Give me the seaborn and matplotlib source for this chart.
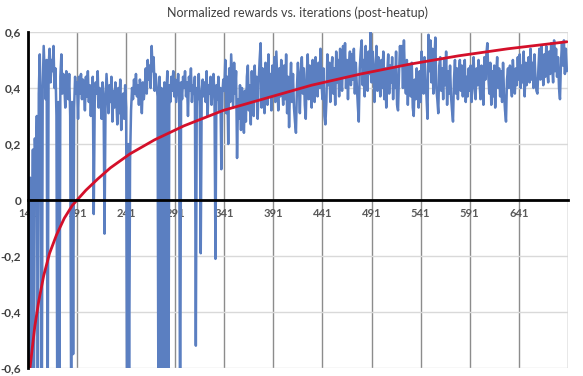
import numpy as np
import pandas as pd
import matplotlib
matplotlib.use("Agg")
import matplotlib.pyplot as plt
from matplotlib.ticker import FuncFormatter
import seaborn as sns

# normalized reward per iteration (iterations 141..690)
rewards_early = [
    -0.95, -0.30, 0.08, -0.85, -0.30, 0.18, -0.75, 0.22, 0.05, 0.30,
    -0.80, 0.38, 0.52, 0.30, -0.90, 0.40, 0.55, 0.45, 0.36, 0.50,
    -0.85, 0.48, 0.54, 0.42, 0.50, 0.46, 0.55, 0.40, 0.47, 0.30,
    -0.95, 0.35, -0.80, 0.44, 0.52, 0.38, 0.45, 0.41, 0.33, 0.46,
    0.40, 0.36, 0.45, 0.30, -0.75, 0.35, -0.55, 0.33, 0.44, 0.38,
    0.42, 0.29, 0.44, 0.38, 0.45, 0.36, 0.43, 0.40, 0.32, 0.44,
    0.37, 0.46, 0.35, 0.41, 0.30, 0.39, 0.44, -0.05, 0.35, 0.42,
    0.38, 0.46, 0.33, 0.40, 0.36, 0.29, 0.42, 0.37, -0.12, 0.34,
    0.45, 0.38, 0.31, 0.41, 0.35, 0.44, 0.28, 0.39, 0.33, 0.42,
    0.36, 0.27, 0.40, 0.31, 0.43, 0.25, 0.34, 0.38, 0.29, 0.41,
    0.33, -0.85, 0.20, -0.70, 0.14, 0.32, 0.40, 0.36, 0.43, 0.38,
    0.45, 0.37, 0.41, 0.34, 0.43, 0.39, 0.31, 0.42, 0.36, 0.40,
    0.47, 0.38, 0.50, 0.43, 0.48, 0.40, 0.55, 0.46, 0.51, 0.39,
    0.45, 0.41, 0.37, -0.90, 0.44, -0.95, 0.40, 0.35, -1.00, 0.42,
    -0.85, 0.38, 0.46, -0.90, 0.41, 0.35, 0.44, 0.39, 0.46, 0.37,
    0.43, 0.35, 0.40, 0.45, 0.38, -0.95, 0.42, 0.36, 0.44, 0.40,
    0.46, 0.37, 0.42, 0.30, 0.44, 0.39, 0.47, 0.35, 0.41, 0.38,
    0.44, -0.52, 0.40, 0.36, 0.45, 0.33, -0.19, 0.39, 0.43, 0.37,
    0.42, 0.35, 0.46, 0.30, 0.41, 0.38, 0.44, 0.34, 0.40, 0.45,
    0.37, -0.21, 0.41, 0.36, 0.44, 0.32, 0.40, 0.11, 0.38, 0.43,
]
rewards_mid = [
    0.39, 0.50, 0.31, 0.44, 0.20, 0.47, 0.35, 0.52, 0.42, 0.33,
    0.49, 0.38, 0.46, 0.15, 0.36, 0.29, 0.41, 0.25, 0.40, 0.31,
    0.24, 0.39, 0.28, 0.44, 0.48, 0.32, 0.41, 0.27, 0.46, 0.35,
    0.30, 0.48, 0.36, 0.44, 0.29, 0.42, 0.50, 0.56, 0.33, 0.47,
    0.36, 0.31, 0.49, 0.41, 0.34, 0.52, 0.37, 0.45, 0.32, 0.48,
    0.38, 0.51, 0.35, 0.53, 0.42, 0.32, 0.47, 0.37, 0.50, 0.40,
    0.34, 0.48, 0.36, 0.52, 0.31, 0.44, 0.26, 0.41, 0.49, 0.35,
    0.45, 0.33, 0.28, 0.24, 0.40, 0.49, 0.41, 0.31, 0.46, 0.51,
    0.38, 0.47, 0.34, 0.29, 0.45, 0.52, 0.36, 0.48, 0.40, 0.33,
    0.50, 0.41, 0.35, 0.51, 0.43, 0.37, 0.49, 0.40, 0.54, 0.42,
    0.36, 0.47, 0.30, 0.27, 0.35, 0.52, 0.41, 0.49, 0.35, 0.46,
    0.51, 0.38, 0.47, 0.34, 0.53, 0.42, 0.50, 0.37, 0.54, 0.43,
    0.39, 0.55, 0.44, 0.56, 0.40, 0.50, 0.36, 0.48, 0.53, 0.41,
    0.52, 0.43, 0.54, 0.38, 0.49, 0.41, 0.34, 0.28, 0.47, 0.53,
    0.57, 0.41, 0.50, 0.37, 0.55, 0.44, 0.39, 0.53, 0.45, 0.60,
    0.42, 0.53, 0.47, 0.35, 0.46, 0.55, 0.39, 0.51, 0.42, 0.37,
    0.50, 0.40, 0.53, 0.36, 0.47, 0.33, 0.45, 0.52, 0.38, 0.48,
    0.42, 0.51, 0.36, 0.47, 0.40, 0.53, 0.34, 0.32, 0.45, 0.55,
    0.48, 0.55, 0.40, 0.57, 0.44, 0.38, 0.50, 0.34, 0.48, 0.42,
    0.37, 0.49, 0.33, 0.30, 0.43, 0.36, 0.47, 0.39, 0.33, 0.46,
]
rewards_late = [
    0.35, 0.53, 0.44, 0.38, 0.51, 0.42, 0.37, 0.29, 0.59, 0.46,
    0.57, 0.42, 0.54, 0.38, 0.49, 0.58, 0.40, 0.36, 0.31, 0.48,
    0.51, 0.39, 0.47, 0.36, 0.50, 0.41, 0.53, 0.34, 0.46, 0.38,
    0.48, 0.37, 0.32, 0.28, 0.43, 0.50, 0.38, 0.47, 0.36, 0.46,
    0.50, 0.39, 0.48, 0.37, 0.46, 0.50, 0.35, 0.44, 0.37, 0.47,
    0.39, 0.48, 0.35, 0.45, 0.51, 0.40, 0.36, 0.47, 0.41, 0.50,
    0.42, 0.36, 0.48, 0.40, 0.34, 0.51, 0.43, 0.52, 0.56, 0.44,
    0.38, 0.49, 0.34, 0.46, 0.37, 0.48, 0.33, 0.45, 0.51, 0.40,
    0.47, 0.37, 0.46, 0.35, 0.49, 0.38, 0.32, 0.28, 0.43, 0.47,
    0.40, 0.48, 0.42, 0.37, 0.50, 0.43, 0.38, 0.47, 0.41, 0.51,
    0.43, 0.52, 0.40, 0.48, 0.42, 0.53, 0.37, 0.49, 0.41, 0.47,
    0.51, 0.42, 0.54, 0.43, 0.49, 0.40, 0.52, 0.44, 0.39, 0.38,
    0.47, 0.54, 0.43, 0.55, 0.49, 0.41, 0.52, 0.44, 0.55, 0.46,
    0.42, 0.53, 0.45, 0.56, 0.48, 0.42, 0.57, 0.46, 0.54, 0.44,
    0.51, 0.40, 0.36, 0.49, 0.56, 0.48, 0.57, 0.45, 0.54, 0.46,
]

# red (log) trendline
trend_iter = [142, 143, 145, 148, 152, 157, 163, 170, 178, 186, 191, 200, 212,
              225, 245, 270, 300, 340, 380, 430, 480, 530, 580, 630, 690]
trend_vals = [-0.66, -0.60, -0.54, -0.45, -0.36, -0.27, -0.19, -0.125, -0.065,
              -0.02, 0.0, 0.035, 0.075, 0.115, 0.165, 0.215, 0.265, 0.32,
              0.36, 0.41, 0.45, 0.485, 0.515, 0.54, 0.565]

x_ticks = list(range(141, 692, 50))
y_ticks = [-0.6, -0.4, -0.2, 0.0, 0.2, 0.4, 0.6]

rewards = rewards_early + rewards_mid + rewards_late
df = pd.DataFrame({"iteration": np.arange(141, 141 + len(rewards)), "reward": rewards})
trend = pd.DataFrame({"iteration": trend_iter, "reward": trend_vals})

sns.set_style("white")
plt.rcParams["font.family"] = ["Lato", "DejaVu Sans"]

fig = plt.figure(figsize=(5.83, 3.76), dpi=100)
ax = fig.add_axes([0.048, 0.021, 0.926, 0.894])

sns.lineplot(data=df, x="iteration", y="reward", ax=ax, color="#5b7fc1", linewidth=1.8)
sns.lineplot(data=trend, x="iteration", y="reward", ax=ax, color="#d4102a", linewidth=2.0)

ax.set_xlim(141, 691)
ax.set_ylim(-0.6, 0.6)

# gridlines: dark vertical, light horizontal
for xv in x_ticks:
    ax.axvline(xv, color="#8c8c8c", linewidth=1.0, zorder=0)
for yv in y_ticks:
    ax.axhline(yv, color="#d9d9d9", linewidth=1.0, zorder=0)

ax.set_xticks(x_ticks)
ax.set_xticklabels([str(v) for v in x_ticks[:-1]] + [""])
ax.set_yticks(y_ticks)
ax.yaxis.set_major_formatter(FuncFormatter(
    lambda v, p: "0" if abs(v) < 1e-9 else f"{v:.1f}".replace(".", ",")))

ax.spines["bottom"].set_position(("data", 0))
ax.spines["bottom"].set_linewidth(2.0)
ax.spines["bottom"].set_color("black")
ax.spines["left"].set_linewidth(2.0)
ax.spines["left"].set_color("black")
ax.spines["top"].set_visible(False)
ax.spines["right"].set_visible(False)

ax.tick_params(axis="x", direction="inout", length=5, width=1.2, pad=3,
               labelsize=8, labelcolor="#595959")
ax.tick_params(axis="y", length=0, pad=5, labelsize=8.5, labelcolor="#404040")
for lab in ax.get_xticklabels() + ax.get_yticklabels():
    lab.set_fontweight("bold")

ax.set_xlabel("")
ax.set_ylabel("")
fig.text(0.51, 0.965, "Normalized rewards vs. iterations (post-heatup)",
         ha="center", va="center", fontsize=9, color="#404040")

fig.savefig("out.png", dpi=100)
